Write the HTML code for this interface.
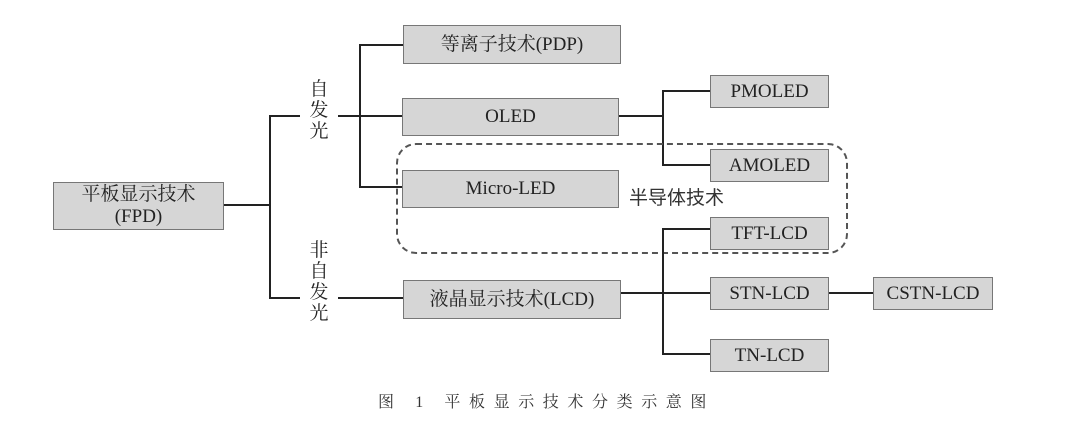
<!DOCTYPE html>
<html><head><meta charset="utf-8"><style>
body{margin:0;background:#fff;width:1080px;height:434px;overflow:hidden;position:relative;font-family:"Liberation Serif","Noto Serif CJK SC",serif;color:#222}
.b{position:absolute;background:#d6d6d6;border:1.5px solid #777;box-sizing:border-box;display:flex;align-items:center;justify-content:center;font-size:19px;text-align:center;line-height:22px}
.l{position:absolute;background:#222}
.t{position:absolute;font-size:19px;line-height:21px;width:20px;text-align:center}
</style></head><body>
<div class="b" style="left:53px;top:182px;width:171px;height:48px;flex-direction:column">平板显示技术<span>(FPD)</span></div>
<div class="l" style="left:224px;top:204px;width:46px;height:2px"></div>
<div class="l" style="left:269px;top:116px;width:2px;height:183px"></div>
<div class="l" style="left:269px;top:115px;width:31px;height:2px"></div>
<div class="l" style="left:269px;top:297px;width:31px;height:2px"></div>
<div class="t" style="left:309px;top:79px">自<br>发<br>光</div>
<div class="t" style="left:309px;top:240px">非<br>自<br>发<br>光</div>
<div class="l" style="left:338px;top:115px;width:65px;height:2px"></div>
<div class="l" style="left:338px;top:297px;width:65px;height:2px"></div>
<div class="l" style="left:359px;top:44px;width:2px;height:144px"></div>
<div class="l" style="left:359px;top:44px;width:44px;height:2px"></div>
<div class="l" style="left:359px;top:186px;width:44px;height:2px"></div>
<div class="b" style="left:403px;top:25px;width:218px;height:39px">等离子技术(PDP)</div>
<div class="b" style="left:402px;top:98px;width:217px;height:38px">OLED</div>
<div class="b" style="left:402px;top:170px;width:217px;height:38px">Micro-LED</div>
<div class="b" style="left:403px;top:280px;width:218px;height:39px">液晶显示技术(LCD)</div>
<div class="l" style="left:619px;top:115px;width:44px;height:2px"></div>
<div class="l" style="left:662px;top:91px;width:2px;height:75px"></div>
<div class="l" style="left:662px;top:90px;width:48px;height:2px"></div>
<div class="l" style="left:662px;top:164px;width:48px;height:2px"></div>
<div class="b" style="left:710px;top:75px;width:119px;height:33px">PMOLED</div>
<div class="b" style="left:710px;top:149px;width:119px;height:33px">AMOLED</div>
<div style="position:absolute;left:396px;top:143px;width:452px;height:111px;border:2px dashed #555;border-radius:20px;box-sizing:border-box"></div>
<div style="position:absolute;left:629px;top:186px;font-size:19px;font-family:'Noto Sans CJK SC',sans-serif;line-height:22px;color:#333">半导体技术</div>
<div class="l" style="left:621px;top:292px;width:42px;height:2px"></div>
<div class="l" style="left:662px;top:229px;width:2px;height:125px"></div>
<div class="l" style="left:662px;top:228px;width:48px;height:2px"></div>
<div class="l" style="left:662px;top:292px;width:48px;height:2px"></div>
<div class="l" style="left:662px;top:353px;width:48px;height:2px"></div>
<div class="b" style="left:710px;top:217px;width:119px;height:33px">TFT-LCD</div>
<div class="b" style="left:710px;top:277px;width:119px;height:33px">STN-LCD</div>
<div class="b" style="left:710px;top:339px;width:119px;height:33px">TN-LCD</div>
<div class="l" style="left:829px;top:292px;width:44px;height:2px"></div>
<div class="b" style="left:873px;top:277px;width:120px;height:33px">CSTN-LCD</div>
<div style="position:absolute;left:378px;top:392px;font-size:16px;letter-spacing:8.6px;line-height:22px;color:#333;white-space:nowrap">图 1 平板显示技术分类示意图</div>
</body></html>
